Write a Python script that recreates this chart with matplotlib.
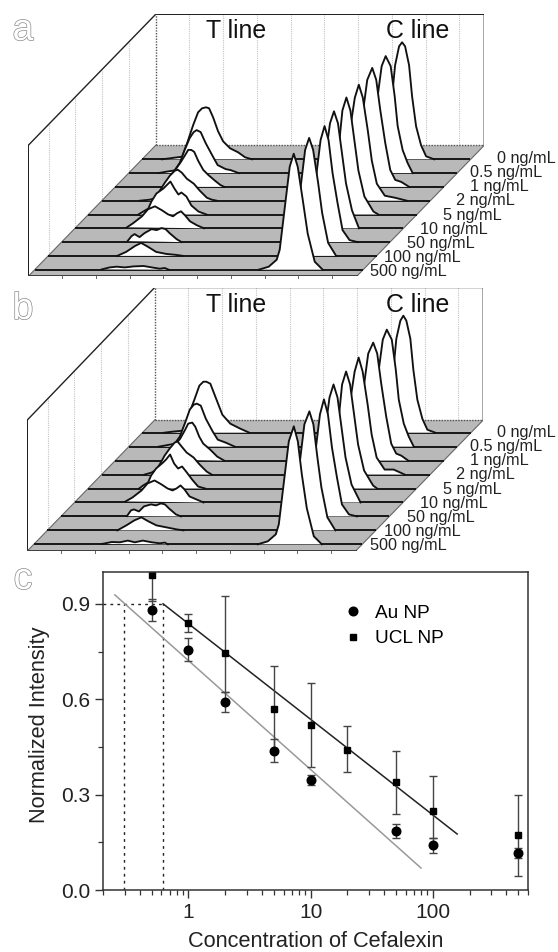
import matplotlib
matplotlib.use('Agg')
import matplotlib.pyplot as plt
import matplotlib.patheffects as pe
from matplotlib.ticker import LogLocator, NullFormatter, FixedLocator, FixedFormatter

plt.rcParams['font.family'] = ['Liberation Sans', 'DejaVu Sans']

FIG_W, FIG_H = 558, 952

conc_labels = ['0 ng/mL', '0.5 ng/mL', '1 ng/mL', '2 ng/mL', '5 ng/mL',
               '10 ng/mL', '50 ng/mL', '100 ng/mL', '500 ng/mL']

# panel a, T line: position along the strip and height, one list per strip (back to front)
t_pos_a = [
    [20, 28, 33, 40, 45, 51, 56, 60, 64, 67, 71, 76, 81, 88, 96, 103, 110],
    [30, 37, 46, 51, 56, 61, 65, 68, 72, 77, 84, 89, 97, 102, 110],
    [47, 50, 55, 60, 65, 70, 73, 76, 79, 83, 88, 93, 100, 105, 109],
    [38, 48, 55, 58, 63, 68, 73, 76, 80, 85, 92, 98, 105, 110, 115],
    [50, 55, 60, 63, 68, 75, 78, 82, 86, 90, 93, 98, 103, 110, 118],
    [52, 58, 67, 73, 80, 87, 93, 98, 102, 106, 110, 115, 122, 129],
    [66, 70, 73, 78, 83, 90, 95, 100, 104, 108, 115, 120],
    [69, 78, 87, 93, 100, 108, 118, 128, 135],
    [67, 75, 82, 90, 99, 109, 117, 125, 130, 134],
]
t_h_a = [
    [0, 1, 1.7, 2.5, 16, 34, 47, 51, 52, 51, 42, 28, 18, 11, 7, 2, 0],
    [0, 1.3, 2.7, 10, 23, 35, 41, 43, 41, 30, 17, 8, 4, 3, 0],
    [0, 1, 11, 17, 24, 32, 37, 37, 35, 26, 17, 12, 6, 2, 0],
    [0, 1, 3, 10, 18, 25, 30, 31, 28, 22, 17, 10, 3, 1, 0],
    [0, 3, 6, 13, 21, 26, 29, 33, 26, 20, 22, 18, 9, 3, 0],
    [1, 5, 12, 19, 22, 18, 14, 12, 15, 17, 13, 7, 3, 0],
    [1, 6, 8, 5, 9, 13, 12, 14, 13, 9, 3, 0],
    [0, 4, 10, 13, 9, 4, 2, 1, 0],
    [0.3, 2.3, 3, 2.3, 3.3, 3.7, 2.3, 1, 1.7, 0],
]

# panel a, C line
c_pos_a = [
    [231, 236, 241, 246, 250, 253, 257, 260, 263, 267, 270, 274, 279, 284, 292],
    [230, 236, 241, 245, 249, 253, 257, 262, 266, 269, 274, 279, 284],
    [230, 235, 240, 245, 248, 252, 257, 261, 265, 270, 275, 280, 286, 294],
    [233, 240, 245, 248, 253, 257, 261, 266, 270, 275, 283, 293, 305],
    [233, 241, 246, 251, 254, 258, 262, 266, 270, 276, 285, 290],
    [235, 241, 246, 251, 255, 259, 263, 267, 271, 277, 284],
    [238, 246, 251, 255, 259, 263, 267, 271, 276, 281, 288, 296],
    [235, 243, 249, 253, 257, 261, 265, 270, 274, 280, 288],
    [224, 234, 242, 245, 251, 255, 259, 263, 268, 273, 280, 288],
]
c_h_a = [
    [0, 3, 14, 33, 63, 94, 113, 117, 113, 94, 63, 33, 14, 3, 0],
    [0, 10, 23, 47, 77, 107, 117, 107, 77, 47, 23, 10, 0],
    [0, 4, 17, 44, 77, 107, 119, 107, 77, 44, 17, 7, 5, 0],
    [0, 13, 40, 70, 103, 116, 103, 70, 40, 17, 5, 3, 0],
    [0, 18, 44, 74, 104, 117, 104, 74, 44, 18, 3, 0],
    [0, 18, 45, 75, 105, 117, 105, 75, 45, 18, 0],
    [0, 12, 39, 69, 102, 116, 102, 69, 39, 12, 2, 0],
    [0, 9, 43, 73, 106, 118, 106, 73, 43, 13, 0],
    [0, 3, 10, 20, 70, 103, 116, 103, 70, 36, 8, 0],
]

# panel b, T line
t_pos_b = [
    [22, 30, 40, 45, 52, 57, 61, 64, 68, 73, 80, 88, 98, 107],
    [30, 41, 46, 51, 56, 61, 65, 68, 72, 77, 84, 89, 97, 106],
    [48, 55, 60, 65, 70, 73, 77, 80, 84, 88, 95, 102, 109],
    [43, 50, 55, 58, 63, 68, 73, 76, 80, 85, 92, 98, 105, 110],
    [51, 55, 60, 63, 68, 75, 78, 82, 86, 90, 94, 98, 104, 110, 117],
    [51, 58, 67, 73, 80, 87, 93, 98, 102, 106, 110, 115, 122, 129],
    [66, 70, 73, 78, 83, 90, 95, 100, 104, 108, 115, 120],
    [70, 79, 87, 94, 101, 109, 119, 129, 136],
    [68, 78, 86, 94, 101, 109, 118, 126, 131, 134],
]
t_h_b = [
    [0, 1, 2, 14, 33, 47, 51, 51, 49, 36, 18, 9, 4, 0],
    [0, 2, 3, 10, 23, 37, 42, 43, 41, 28, 15, 7, 4, 0],
    [1, 10, 16, 22, 31, 37, 38, 34, 24, 17, 11, 4, 0],
    [0, 2, 5, 10, 19, 26, 32, 33, 28, 22, 17, 10, 3, 0],
    [0, 3, 6, 13, 20, 26, 29, 34, 25, 20, 22, 17, 9, 2, 0],
    [1, 5, 12, 19, 22, 18, 14, 12, 14, 17, 13, 6, 3, 0],
    [0.3, 6, 7, 5, 10, 12, 11, 13, 12, 8, 2, 0],
    [0, 5, 10, 13, 9, 5, 3, 1, 0],
    [0.3, 2.3, 2, 3.7, 2, 3.7, 2, 1, 1.7, 0],
]

# panel b, C line
c_pos_b = [
    [232, 237, 242, 247, 251, 254, 258, 261, 264, 268, 271, 275, 280, 285, 293],
    [231, 237, 242, 246, 250, 254, 258, 263, 267, 270, 275, 280, 285],
    [231, 236, 241, 246, 249, 253, 258, 262, 266, 271, 276, 281, 286, 293],
    [233, 240, 245, 248, 253, 257, 261, 266, 270, 275, 283, 292, 303],
    [233, 241, 246, 251, 254, 258, 262, 266, 270, 276, 285, 289],
    [235, 241, 246, 251, 255, 259, 263, 267, 271, 277, 286],
    [238, 246, 251, 255, 259, 263, 267, 271, 276, 281, 288, 296],
    [235, 243, 249, 253, 257, 262, 266, 270, 274, 280, 288],
    [224, 234, 242, 245, 251, 255, 260, 264, 268, 273, 280, 288],
]
c_h_b = [
    [0, 3, 14, 33, 63, 94, 112, 117, 112, 94, 63, 33, 14, 3, 0],
    [0, 10, 23, 47, 77, 107, 117, 107, 77, 47, 23, 10, 0],
    [0, 4, 17, 44, 77, 107, 118, 107, 77, 44, 17, 7, 5, 0],
    [0, 13, 40, 70, 103, 117, 103, 70, 40, 17, 5, 5, 0],
    [0, 18, 44, 74, 104, 117, 104, 74, 44, 18, 3, 0],
    [0, 18, 45, 75, 105, 118, 105, 75, 45, 18, 0],
    [0, 12, 39, 69, 102, 117, 102, 69, 39, 12, 2, 0],
    [0, 9, 43, 73, 106, 119, 106, 73, 43, 13, 0],
    [0, 3, 10, 20, 70, 103, 118, 103, 70, 36, 8, 0],
]

# panel c
conc_au = [0.5, 1, 2, 5, 10, 50, 100, 500]
au_val = [0.879, 0.755, 0.591, 0.438, 0.346, 0.186, 0.141, 0.117]
au_low = [0.845, 0.719, 0.559, 0.404, 0.329, 0.162, 0.117, 0.100]
au_high = [0.914, 0.792, 0.624, 0.474, 0.363, 0.209, 0.164, 0.131]

conc_ucl = [0.5, 1, 2, 5, 10, 20, 50, 100, 500]
ucl_val = [0.992, 0.840, 0.744, 0.569, 0.518, 0.440, 0.340, 0.249, 0.172]
ucl_low = [0.908, 0.811, 0.624, 0.438, 0.387, 0.370, 0.238, 0.164, 0.044]
ucl_high = [1.08, 0.867, 0.926, 0.704, 0.651, 0.516, 0.436, 0.360, 0.300]

fit_ucl_x = [0.62, 158]
fit_ucl_y = [0.900, 0.176]
fit_au_x = [0.25, 80]
fit_au_y = [0.928, 0.069]
lod_x = [0.298, 0.62]
lod_y = 0.9


def px_axes(left, top, right, bottom):
    return fig.add_axes([left / FIG_W, 1 - bottom / FIG_H,
                         (right - left) / FIG_W, (bottom - top) / FIG_H])


def draw_strips(left, top, bottom, t_pos, t_h, c_pos, c_h, first_base, row_step, label_top, title_base):
    width = 456
    floor_dx, floor_dy, strip_len = 127.4, 131.0, 328.4
    wall = bottom - top - floor_dy
    slope = floor_dx / floor_dy
    ax = px_axes(left, top, left + width, bottom)
    ax.set_xlim(0, width)
    ax.set_ylim(0, bottom - top)
    ax.axis('off')

    # back wall and left wall grid
    for i in range(1, 10):
        xg = floor_dx + i * 33.75
        if xg < width - 1:
            ax.plot([xg, xg], [floor_dy, floor_dy + wall], color='#c4c4c4', lw=0.8, ls=(0, (1, 1)), zorder=1)
    for xg in [20.4, 46.7, 73.4, 100.4]:
        ax.plot([xg, xg], [xg / slope, xg / slope + wall], color='#c4c4c4', lw=0.8, ls=(0, (1, 1)), zorder=1)

    ax.fill([0, strip_len, width, floor_dx], [0, 0, floor_dy, floor_dy], color='#b9b9b9', lw=0, zorder=2)

    # frame of the walls
    ax.plot([0, 0, floor_dx, width, width], [0, floor_dy, floor_dy + wall, floor_dy + wall, floor_dy],
            color='#222222', lw=1.0, zorder=3)
    ax.plot([floor_dx, floor_dx], [floor_dy, floor_dy + wall], color='#555555', lw=1.0, ls=(0, (1, 1)), zorder=3)
    ax.plot([floor_dx, width], [floor_dy, floor_dy], color='#555555', lw=1.0, ls=(0, (1, 1)), zorder=3)
    ax.plot([0, floor_dx], [0, floor_dy], color='#666666', lw=0.8, zorder=3)
    ax.plot([strip_len, width], [0, floor_dy], color='#666666', lw=0.8, zorder=3)
    ax.plot([0, strip_len], [0, 0], color='#333333', lw=1.3, zorder=3)
    for i in range(1, 10):
        ax.plot([i * 33.75] * 2, [0, -1.5], color='#666666', lw=0.7, clip_on=False, zorder=3)

    # strips go back to front, each one hides what lies behind it
    for k in range(9):
        base = first_base + (8 - k) * row_step
        x0 = base * slope
        z = 10 + k * 3
        ax.plot([x0, x0 + strip_len], [base, base], color='#111111', lw=1.35, solid_capstyle='butt', zorder=z)
        for pos, h in [(t_pos[k], t_h[k]), (c_pos[k], c_h[k])]:
            xs = [x0 + p for p in pos]
            ys = [base + v for v in h]
            ax.fill(xs, ys, color='white', lw=0, zorder=z + 1)
            ax.plot(xs, ys, color='#111111', lw=1.35, solid_joinstyle='round', zorder=z + 2)
        ax.text(556 - k * 13.6 - left, bottom - label_top - k * 14.1, conc_labels[k], ha='right', va='center',
                fontsize=11.7, color='#222222', clip_on=False, zorder=60)

    ax.text(206 - left, bottom - title_base, 'T line', fontsize=17.9, color='#111111', va='baseline')
    ax.text(386 - left, bottom - title_base, 'C line', fontsize=17.9, color='#111111', va='baseline')
    return ax


def panel_letter(letter, x, y):
    fig.text(x / FIG_W, 1 - y / FIG_H, letter, fontsize=27, color='white', ha='center', va='baseline',
             path_effects=[pe.withStroke(linewidth=1.0, foreground='#8a8a8a')])


fig = plt.figure(figsize=(FIG_W / 100, FIG_H / 100), dpi=100, facecolor='white')

draw_strips(28.3, 14.3, 276.3, t_pos_a, t_h_a, c_pos_a, c_h_a, 6.6, 13.8, 158.7, 38)
draw_strips(27.3, 287.5, 551, t_pos_b, t_h_b, c_pos_b, c_h_b, 6.7, 13.95, 432.7, 312)

panel_letter('a', 23, 40)
panel_letter('b', 23, 319)
panel_letter('c', 23, 589)

# panel c
ax = px_axes(103, 572, 528, 890)
ax.set_xscale('log')
ax.set_xlim(0.2, 600)
ax.set_ylim(0, 1.0)

ax.plot([0.2, lod_x[1]], [lod_y, lod_y], color='#222222', lw=1.0, ls=(0, (2, 3)))
for xv in lod_x:
    ax.plot([xv, xv], [0, lod_y], color='#222222', lw=1.0, ls=(0, (2, 3)))
ax.plot(fit_au_x, fit_au_y, color='#999999', lw=1.1)
ax.plot(fit_ucl_x, fit_ucl_y, color='#222222', lw=1.1)

err_au = [[v - l for v, l in zip(au_val, au_low)], [h - v for v, h in zip(au_val, au_high)]]
err_ucl = [[v - l for v, l in zip(ucl_val, ucl_low)], [h - v for v, h in zip(ucl_val, ucl_high)]]
ax.errorbar(conc_au, au_val, yerr=err_au, fmt='o', color='black', ecolor='#444444', ms=6.2,
            elinewidth=1.0, capsize=3, capthick=1.0, label='Au NP')
ax.errorbar(conc_ucl, ucl_val, yerr=err_ucl, fmt='s', color='black', ecolor='#444444', ms=4.8,
            elinewidth=1.0, capsize=3, capthick=1.0, label='UCL NP')

ax.xaxis.set_major_locator(FixedLocator([1, 10, 100]))
ax.xaxis.set_major_formatter(FixedFormatter(['1', '10', '100']))
ax.xaxis.set_minor_locator(LogLocator(base=10, subs=range(2, 10), numticks=12))
ax.xaxis.set_minor_formatter(NullFormatter())
ax.set_yticks([0.0, 0.3, 0.6, 0.9])
ax.set_yticks([0.15, 0.45, 0.75], minor=True)
ax.tick_params(axis='both', which='major', length=6, width=1.0, labelsize=15, color='#333333', labelcolor='#222222', pad=3)
ax.tick_params(axis='both', which='minor', length=3.5, width=0.9, color='#333333')
for s in ax.spines.values():
    s.set_linewidth(1.1)
    s.set_color('#333333')

ax.set_xlabel('Concentration of Cefalexin', fontsize=15.7, color='#222222', labelpad=6.5)
ax.set_ylabel('Normalized Intensity', fontsize=15.7, color='#222222', labelpad=8, y=0.52)

handles, labels = ax.get_legend_handles_labels()
handles = [h[0] for h in handles]
ax.legend(handles, labels, loc='upper left', bbox_to_anchor=(0.53, 0.927), frameon=False, fontsize=13.7,
          handletextpad=0.35, labelspacing=0.42, handlelength=1.6, borderpad=0)

fig.savefig('out.png', dpi=100)
